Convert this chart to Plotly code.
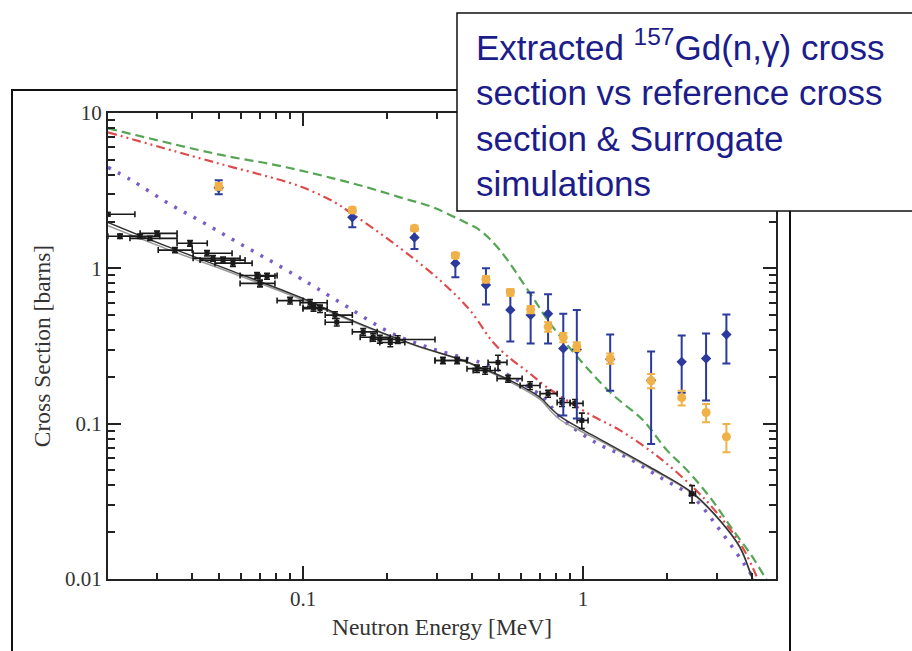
import plotly.graph_objects as go

# ---------------- data ----------------
# Surrogate-extracted cross section (blue diamonds)
sur_x = [0.05, 0.15, 0.25, 0.35, 0.45, 0.55, 0.65, 0.75, 0.85, 0.95, 1.25, 1.75, 2.25, 2.75, 3.25]
sur_y = [3.3, 2.13, 1.58, 1.08, 0.78, 0.54, 0.50, 0.51, 0.305, 0.30, 0.26, 0.19, 0.25, 0.263, 0.375]
sur_hi = [3.69, 2.35, 1.78, 1.24, 1.0, 0.72, 0.70, 0.68, 0.51, 0.54, 0.375, 0.292, 0.37, 0.38, 0.505]
sur_lo = [3.0, 1.84, 1.33, 0.875, 0.586, 0.338, 0.328, 0.328, 0.113, 0.108, 0.163, 0.074, 0.158, 0.141, 0.244]

# Simulated surrogate (orange)
sim_y = [3.37, 2.37, 1.81, 1.21, 0.85, 0.70, 0.543, 0.42, 0.359, 0.314, 0.263, 0.189, 0.147, 0.118, 0.0824]
sim_err = [0.17, 0.10, 0.07, 0.05, 0.04, 0.035, 0.03, 0.03, 0.025, 0.02, 0.02, 0.02, 0.016, 0.016, 0.017]

# Reference measured cross section (black crosses)
exp_x = [0.0201, 0.0222, 0.0262, 0.0284, 0.0301, 0.0349, 0.0395, 0.0454, 0.0477, 0.0518,
         0.0562, 0.0685, 0.0702, 0.0744, 0.0899, 0.106, 0.109, 0.115, 0.130, 0.132,
         0.164, 0.178, 0.188, 0.205, 0.218, 0.316, 0.355, 0.418, 0.447, 0.497,
         0.540, 0.647, 0.75, 0.841, 0.936, 0.99, 2.45]
exp_y = [2.23, 1.61, 1.61, 1.56, 1.68, 1.31, 1.45, 1.25, 1.16, 1.13,
         1.08, 0.90, 0.80, 0.89, 0.62, 0.60, 0.56, 0.55, 0.50, 0.45,
         0.39, 0.36, 0.35, 0.333, 0.348, 0.255, 0.255, 0.226, 0.22, 0.248,
         0.195, 0.176, 0.156, 0.137, 0.135, 0.105, 0.0354]
exp_xlo = [0.0188, 0.0201, 0.0222, 0.0241, 0.0262, 0.0304, 0.0355, 0.0405, 0.0405, 0.0429,
           0.0485, 0.0596, 0.0596, 0.0702, 0.0808, 0.0976, 0.1, 0.1, 0.120, 0.120,
           0.150, 0.160, 0.174, 0.188, 0.188, 0.296, 0.296, 0.385, 0.405, 0.458,
           0.493, 0.596, 0.702, 0.808, 0.899, 0.952, 2.40]
exp_xhi = [0.0251, 0.0262, 0.0308, 0.0355, 0.0355, 0.0402, 0.0455, 0.0558, 0.0596, 0.0621,
           0.0658, 0.0808, 0.0794, 0.0794, 0.1, 0.122, 0.115, 0.122, 0.150, 0.150,
           0.184, 0.205, 0.205, 0.231, 0.296, 0.385, 0.385, 0.466, 0.485, 0.535,
           0.606, 0.702, 0.808, 0.899, 1.0, 1.042, 2.52]
exp_yerr = [0.06, 0.05, 0.05, 0.05, 0.06, 0.05, 0.06, 0.05, 0.05, 0.05,
            0.05, 0.04, 0.04, 0.04, 0.03, 0.03, 0.03, 0.03, 0.025, 0.025,
            0.02, 0.02, 0.02, 0.02, 0.02, 0.012, 0.012, 0.012, 0.012, 0.028,
            0.01, 0.01, 0.008, 0.008, 0.008, 0.012, 0.0045]

# Evaluated reference cross sections (solid black and grey)
eval_x = [0.0201, 0.0327, 0.0562, 0.0976, 0.1436, 0.2471, 0.3636, 0.4287, 0.5486, 0.7023,
          0.7623, 0.8279, 0.9756, 1.150, 1.356, 1.735, 2.471, 3.085, 3.637, 4.014, 4.2]
eval_y = [1.978, 1.385, 0.956, 0.651, 0.4766, 0.324, 0.2596, 0.2305, 0.1901, 0.1477,
          0.1274, 0.1115, 0.0933, 0.0793, 0.0673, 0.0524, 0.0356, 0.0238, 0.0160, 0.01025, 0.0085]
eval2_y = [1.88, 1.33, 0.93, 0.635, 0.47, 0.322, 0.258, 0.229, 0.186, 0.143,
           0.122, 0.106, 0.090, 0.0775, 0.066, 0.0515, 0.0352, 0.0236, 0.0158, 0.0101, 0.0084]

# Surrogate simulations
purple_x = [0.02012, 0.02411, 0.0335, 0.04394, 0.05669, 0.07377, 0.09519, 0.1122, 0.1448, 0.2045,
            0.2937, 0.4287, 0.5179, 0.7197, 0.8279, 1.122, 1.436, 1.884, 2.471, 3.085,
            3.728, 4.047]
purple_y = [4.469, 3.741, 2.583, 1.978, 1.514, 1.160, 0.888, 0.743, 0.561, 0.387,
            0.301, 0.248, 0.214, 0.1477, 0.1098, 0.0747, 0.0607, 0.0451, 0.0335, 0.0206,
            0.0128, 0.01025]

green_x = [0.02012, 0.04287, 0.05623, 0.07437, 0.09756, 0.128, 0.1693, 0.2221, 0.2912, 0.3853,
           0.4287, 0.5052, 0.6467, 0.7815, 1.228, 1.638, 1.995, 2.352, 2.842, 3.434,
           3.948, 4.467, 4.656]
green_y = [7.965, 5.752, 5.184, 4.742, 4.275, 3.797, 3.322, 2.865, 2.470, 1.949,
           1.757, 1.306, 0.6903, 0.4171, 0.1639, 0.1051, 0.0673, 0.0501, 0.0335, 0.0206,
           0.01463, 0.01025, 0.0091]

red_x = [0.02012, 0.04287, 0.05623, 0.07437, 0.09756, 0.128, 0.1472, 0.1884, 0.2351, 0.3085,
         0.3949, 0.4771, 0.5486, 0.631, 0.7437, 0.8985, 1.0857, 1.356, 1.884, 2.471,
         2.912, 3.637, 4.047, 4.287]
red_y = [7.508, 5.108, 4.469, 3.911, 3.373, 2.700, 2.294, 1.680, 1.249, 0.837,
         0.5366, 0.3339, 0.2634, 0.2173, 0.1714, 0.1372, 0.1115, 0.0906, 0.0598, 0.0389,
         0.0285, 0.01697, 0.0117, 0.0091]

x_major_vals = [0.1, 1]
y_major_vals = [0.01, 0.1, 1, 10]
x_tick_vals = [0.03, 0.04, 0.05, 0.06, 0.07, 0.08, 0.09, 0.1,
               0.2, 0.3, 0.4, 0.5, 0.6, 0.7, 0.8, 0.9, 1, 2, 3, 4]
x_tick_text = ["", "", "", "", "", "", "", "0.1",
               "", "", "", "", "", "", "", "", "1", "", "", ""]
y_tick_vals = [0.01, 0.02, 0.03, 0.04, 0.05, 0.06, 0.07, 0.08, 0.09,
               0.1, 0.2, 0.3, 0.4, 0.5, 0.6, 0.7, 0.8, 0.9,
               1, 2, 3, 4, 5, 6, 7, 8, 9, 10]
y_tick_text = ["0.01", "", "", "", "", "", "", "", "",
               "0.1", "", "", "", "", "", "", "", "",
               "1", "", "", "", "", "", "", "", "", "10"]

box_text = ("Extracted <sup>157</sup>Gd(n,γ) cross<br>section vs reference cross<br>"
            "section &amp; Surrogate<br>simulations")

# ---------------- figure ----------------
W, H = 912, 651
L, R, T, B = 108, 136, 113, 72
PW, PH = W - L - R, H - T - B
XR = [-1.6964, 0.689]
YR = [-2, 1]


def px(xp):
    return (xp - L) / PW


def py(yp):
    return (H - B - yp) / PH


fig = go.Figure()

# invisible trace carrying the overlay axes used for the long (decade) ticks
fig.add_trace(go.Scatter(x=[0.1], y=[1], xaxis="x2", yaxis="y2", mode="markers",
                         marker=dict(opacity=0), hoverinfo="skip", showlegend=False))

fig.add_trace(go.Scatter(x=green_x, y=green_y, mode="lines",
                         line=dict(color="#55a555", width=2.2, dash="9px,5px"),
                         line_shape="spline", showlegend=False))
fig.add_trace(go.Scatter(x=red_x, y=red_y, mode="lines",
                         line=dict(color="#dd4b4b", width=2.2, dash="9px,4px,2px,4px,2px,4px"),
                         line_shape="spline", showlegend=False))
fig.add_trace(go.Scatter(x=purple_x, y=purple_y, mode="lines",
                         line=dict(color="#7a5cc8", width=3.5, dash="3px,8px"),
                         line_shape="spline", showlegend=False))
fig.add_trace(go.Scatter(x=eval_x, y=eval2_y, mode="lines",
                         line=dict(color="#999999", width=1.5),
                         line_shape="spline", showlegend=False))
fig.add_trace(go.Scatter(x=eval_x, y=eval_y, mode="lines",
                         line=dict(color="#333333", width=1.5),
                         line_shape="spline", showlegend=False))

fig.add_trace(go.Scatter(
    x=exp_x, y=exp_y, mode="markers",
    marker=dict(symbol="square", size=5, color="#1a1a1a"),
    error_x=dict(type="data", symmetric=False,
                 array=[h - x for h, x in zip(exp_xhi, exp_x)],
                 arrayminus=[x - l for l, x in zip(exp_xlo, exp_x)],
                 color="#1a1a1a", thickness=1.6, width=3),
    error_y=dict(type="data", array=exp_yerr, color="#1a1a1a", thickness=1.6, width=3),
    showlegend=False))

fig.add_trace(go.Scatter(
    x=sur_x, y=sur_y, mode="markers",
    marker=dict(symbol="diamond", size=8, color="#2b3a9c"),
    error_y=dict(type="data", symmetric=False,
                 array=[h - y for h, y in zip(sur_hi, sur_y)],
                 arrayminus=[y - l for l, y in zip(sur_lo, sur_y)],
                 color="#2b3a9c", thickness=2, width=4),
    showlegend=False))

fig.add_trace(go.Scatter(
    x=sur_x, y=sim_y, mode="markers",
    marker=dict(symbol="circle", size=9, color="#f0b248"),
    error_y=dict(type="data", array=sim_err, color="#f0b248", thickness=2, width=4),
    showlegend=False))

axis_font = dict(family="Liberation Serif, Times New Roman, serif", size=21, color="#333333")
title_font = dict(family="Liberation Serif, Times New Roman, serif", size=23.5, color="#333333")

common = dict(type="log", ticks="inside", tickwidth=2, tickcolor="#222222",
              showgrid=False, zeroline=False, layer="above traces")

fig.update_layout(
    xaxis=dict(**common, range=XR, tickmode="array", tickvals=x_tick_vals, ticktext=x_tick_text,
               ticklen=6, showline=True, linecolor="#222222", linewidth=2, mirror="ticks",
               tickfont=axis_font,
               title=dict(text="Neutron Energy [MeV]", font=title_font, standoff=8)),
    yaxis=dict(**common, range=YR, tickmode="array", tickvals=y_tick_vals, ticktext=y_tick_text,
               ticklen=7, showline=True, linecolor="#222222", linewidth=2, mirror="ticks",
               tickfont=axis_font,
               title=dict(text="Cross Section [barns]", font=title_font, standoff=8)),
    xaxis2=dict(**common, range=XR, overlaying="x", side="bottom", anchor="y2",
                tickmode="array", tickvals=x_major_vals, ticklen=13,
                showticklabels=False, showline=False, mirror="ticks"),
    yaxis2=dict(**common, range=YR, overlaying="y", side="left", anchor="x2",
                tickmode="array", tickvals=y_major_vals, ticklen=13,
                showticklabels=False, showline=False, mirror="ticks"),
)

# outer frame of the figure image
fig.add_shape(type="rect", xref="paper", yref="paper",
              x0=px(12), x1=px(790), y0=py(665), y1=py(90),
              line=dict(color="#111111", width=2), fillcolor="rgba(0,0,0,0)", layer="below")
# text box
fig.add_shape(type="rect", xref="paper", yref="paper",
              x0=px(457), x1=px(925), y0=py(211), y1=py(13),
              line=dict(color="#111111", width=1.5), fillcolor="white", layer="above")
fig.add_annotation(xref="paper", yref="paper", x=px(474), y=py(21),
                   xanchor="left", yanchor="top", align="left", showarrow=False,
                   text=box_text,
                   font=dict(family="Liberation Sans, Arial, sans-serif", size=35, color="#1c1c8a"))

fig.update_layout(width=W, height=H, margin=dict(l=L, r=R, t=T, b=B),
                  paper_bgcolor="white", plot_bgcolor="white", showlegend=False)

fig.write_html("out.html")
